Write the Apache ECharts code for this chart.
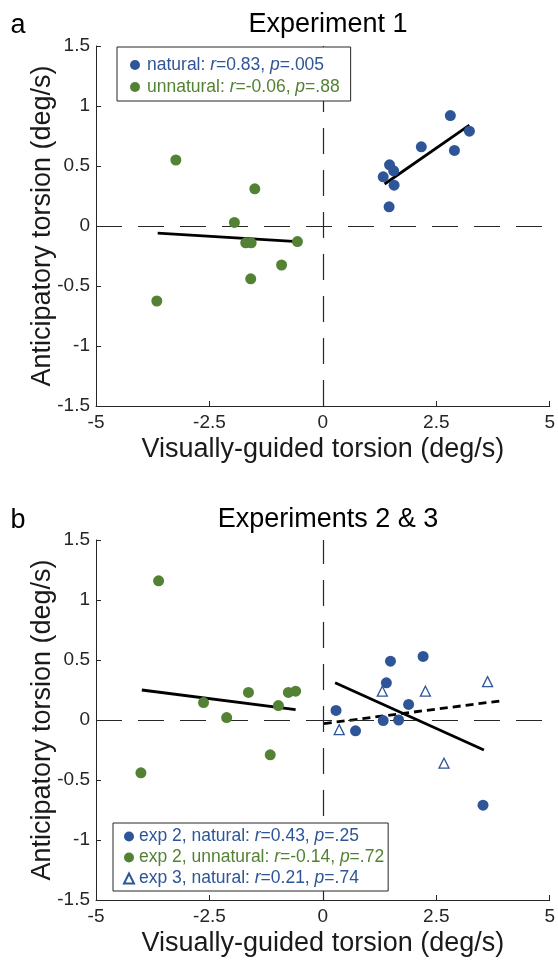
<!DOCTYPE html>
<html>
<head>
<meta charset="utf-8">
<script src="https://cdn.jsdelivr.net/npm/echarts@6/dist/echarts.min.js"></script>
<style>html,body{margin:0;padding:0;background:#fff}#c{width:558px;height:961px}</style>
</head>
<body>
<div id="c"></div>
<script>
// ---- data ----
const xTicks = [-5, -2.5, 0, 2.5, 5];
const yTicks = [-1.5, -1, -0.5, 0, 0.5, 1, 1.5];

// Experiment 1
const e1Natural = [[2.81,0.92],[3.23,0.79],[2.17,0.66],[2.90,0.63],[1.47,0.51],[1.56,0.46],[1.33,0.41],[1.57,0.34],[1.46,0.16]];
const e1Unnatural = [[-3.24,0.55],[-1.50,0.31],[-1.95,0.03],[-1.70,-0.14],[-1.58,-0.14],[-0.56,-0.13],[-0.91,-0.325],[-1.59,-0.44],[-3.66,-0.625]];
const e1NaturalFit = [[1.36,0.35],[3.23,0.84]];
const e1UnnaturalFit = [[-3.64,-0.06],[-0.56,-0.13]];

// Experiments 2 & 3
const e2Natural = [[1.49,0.49],[2.21,0.53],[1.40,0.31],[0.29,0.08],[0.72,-0.09],[1.33,-0.005],[1.67,0.0],[1.89,0.13],[3.53,-0.71]];
const e2Unnatural = [[-3.62,1.16],[-2.63,0.145],[-2.12,0.02],[-1.64,0.23],[-0.98,0.12],[-0.76,0.23],[-0.60,0.24],[-1.16,-0.29],[-4.01,-0.44]];
const e3Natural = [[0.36,-0.08],[1.31,0.24],[2.26,0.24],[2.67,-0.36],[3.63,0.32]];
const e2NaturalFit = [[0.27,0.31],[3.55,-0.25]];
const e2UnnaturalFit = [[-3.99,0.25],[-0.60,0.086]];
const e3NaturalFit = [[0.02,-0.03],[3.93,0.16]];

const legendText = {
  e1nat: ['natural: ', '0.83', '.005', 'b'],
  e1unn: ['unnatural: ', '-0.06', '.88', 'g'],
  e2nat: ['exp 2, natural: ', '0.43', '.25', 'b'],
  e2unn: ['exp 2, unnatural: ', '-0.14', '.72', 'g'],
  e3nat: ['exp 3, natural: ', '0.21', '.74', 'b']
};

const BLUE = '#2E5597';
const GREEN = '#548235';
const AX = '#262626';
const FONT = '"Liberation Sans", Arial, sans-serif';
const LFS = 17.5;

function mkRich(lh) {
  return {
    b: {color: BLUE, fontSize: LFS, fontFamily: FONT, lineHeight: lh},
    bi: {color: BLUE, fontSize: LFS, fontFamily: FONT, fontStyle: 'italic', lineHeight: lh},
    g: {color: GREEN, fontSize: LFS, fontFamily: FONT, lineHeight: lh},
    gi: {color: GREEN, fontSize: LFS, fontFamily: FONT, fontStyle: 'italic', lineHeight: lh}
  };
}
function legFmt(name) {
  const t = legendText[name];
  const c = t[3];
  return '{' + c + '|' + t[0] + '}{' + c + 'i|r}{' + c + '|=' + t[1] + ', }{' + c + 'i|p}{' + c + '|=' + t[2] + '}';
}

function xAx(gi) {
  return {
    gridIndex: gi, type: 'value', min: xTicks[0], max: xTicks[xTicks.length-1], interval: xTicks[1]-xTicks[0],
    name: 'Visually-guided torsion (deg/s)', nameLocation: 'middle', nameGap: 30, nameMoveOverlap: false,
    nameTextStyle: {fontSize: 27, color: '#1a1a1a', fontFamily: FONT},
    axisLine: {onZero: false, lineStyle: {color: AX, width: 1}},
    axisTick: {inside: true, length: 5, lineStyle: {color: AX, width: 1}},
    axisLabel: {color: AX, fontSize: 19, margin: 7, fontFamily: FONT, showMinLabel: true, showMaxLabel: true},
    splitLine: {show: false}
  };
}
function yAx(gi) {
  return {
    gridIndex: gi, type: 'value', min: yTicks[0], max: yTicks[yTicks.length-1], interval: yTicks[1]-yTicks[0],
    name: 'Anticipatory torsion (deg/s)', nameLocation: 'middle', nameGap: 40, nameMoveOverlap: false,
    nameTextStyle: {fontSize: 27, color: '#1a1a1a', fontFamily: FONT},
    axisLine: {onZero: false, lineStyle: {color: AX, width: 1}},
    axisTick: {inside: true, length: 5, lineStyle: {color: AX, width: 1}},
    axisLabel: {color: AX, fontSize: 19, margin: 6, fontFamily: FONT, showMinLabel: true, showMaxLabel: true},
    splitLine: {show: false}
  };
}
const zeroLines = {
  silent: true, symbol: 'none', label: {show: false},
  lineStyle: {color: AX, width: 1.2, type: [26, 16]},
  emphasis: {disabled: true},
  data: [{xAxis: 0}, {yAxis: 0}]
};
function scat(name, gi, data, color, hollow) {
  return {
    name: name, type: 'scatter', xAxisIndex: gi, yAxisIndex: gi, data: data, z: 5,
    symbol: hollow ? 'triangle' : 'circle', symbolSize: hollow ? 10 : 11,
    itemStyle: hollow ? {color: '#fff', borderColor: color, borderWidth: 1.3, opacity: 1} : {color: color, opacity: 1},
    emphasis: {disabled: true}
  };
}
function fit(gi, data, dashed, withZero) {
  const s = {
    type: 'line', xAxisIndex: gi, yAxisIndex: gi, data: data, symbol: 'none', z: 3,
    lineStyle: {color: '#000', width: 2.8, type: dashed ? [8, 5] : 'solid'},
    silent: true, emphasis: {disabled: true}
  };
  if (withZero) s.markLine = zeroLines;
  return s;
}

const chart = echarts.init(document.getElementById('c'), null, {renderer: 'canvas'});
chart.setOption({
  animation: false,
  backgroundColor: '#fff',
  grid: [
    {left: 96, top: 46, width: 455, height: 360},
    {left: 96, top: 540, width: 455, height: 360}
  ],
  xAxis: [xAx(0), xAx(1)],
  yAxis: [yAx(0), yAx(1)],
  legend: [
    {
      data: ['e1nat', 'e1unn'], left: 117, top: 47, orient: 'vertical', selectedMode: false,
      backgroundColor: '#fff', borderColor: AX, borderWidth: 1, borderRadius: 0,
      padding: [8, 11, 4, 13], itemWidth: 10, itemHeight: 10, itemGap: 2,
      textStyle: {fontSize: LFS, lineHeight: 20, fontFamily: FONT, padding: [0, 0, 0, 2], rich: mkRich(20)},
      formatter: legFmt, z: 10
    },
    {
      data: ['e2nat', 'e2unn', 'e3nat'], left: 113, top: 823, orient: 'vertical', selectedMode: false,
      backgroundColor: '#fff', borderColor: AX, borderWidth: 1, borderRadius: 0,
      padding: [4, 4, 3, 10], itemWidth: 10, itemHeight: 10, itemGap: 2,
      textStyle: {fontSize: LFS, lineHeight: 19, fontFamily: FONT, rich: mkRich(19)},
      formatter: legFmt, z: 10
    }
  ],
  graphic: [
    {type: 'text', x: 328, y: 25, style: {text: 'Experiment 1', fill: '#000', font: '27px ' + FONT, textAlign: 'center', textVerticalAlign: 'middle', align: 'center', verticalAlign: 'middle'}},
    {type: 'text', x: 18, y: 26, style: {text: 'a', fill: '#000', font: '27px ' + FONT, textAlign: 'center', textVerticalAlign: 'middle', align: 'center', verticalAlign: 'middle'}},
    {type: 'text', x: 328, y: 520, style: {text: 'Experiments 2 & 3', fill: '#000', font: '27px ' + FONT, textAlign: 'center', textVerticalAlign: 'middle', align: 'center', verticalAlign: 'middle'}},
    {type: 'text', x: 18, y: 521, style: {text: 'b', fill: '#000', font: '27px ' + FONT, textAlign: 'center', textVerticalAlign: 'middle', align: 'center', verticalAlign: 'middle'}}
  ],
  series: [
    fit(0, e1NaturalFit, false, true),
    fit(0, e1UnnaturalFit, false, false),
    scat('e1nat', 0, e1Natural, BLUE, false),
    scat('e1unn', 0, e1Unnatural, GREEN, false),
    fit(1, e2NaturalFit, false, true),
    fit(1, e2UnnaturalFit, false, false),
    fit(1, e3NaturalFit, true, false),
    scat('e2nat', 1, e2Natural, BLUE, false),
    scat('e2unn', 1, e2Unnatural, GREEN, false),
    scat('e3nat', 1, e3Natural, BLUE, true)
  ]
});
</script>
</body>
</html>
